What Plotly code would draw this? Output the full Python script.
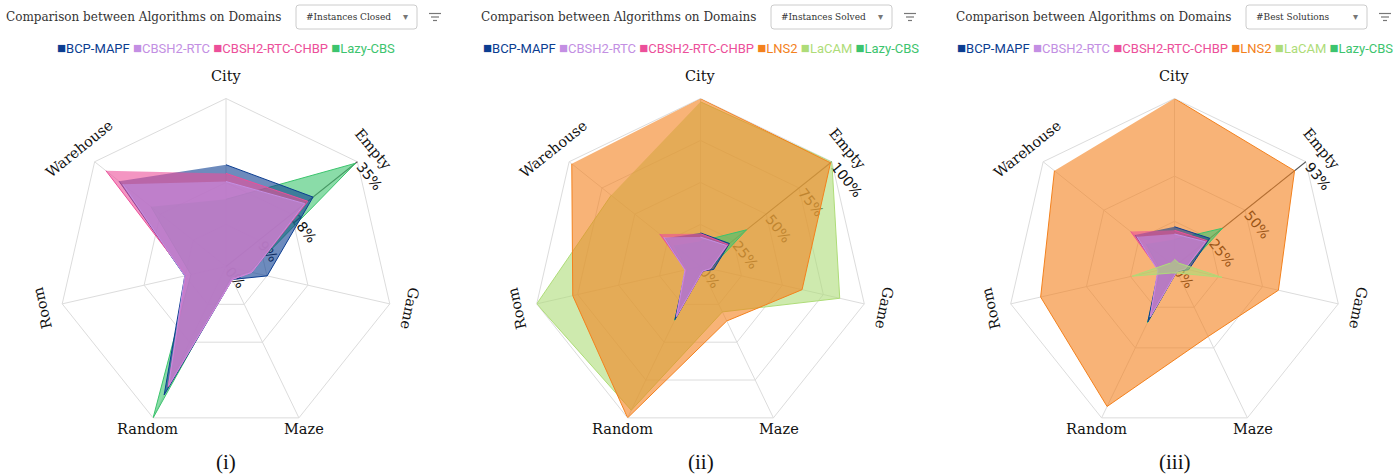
import math
import plotly.graph_objects as go

W, H = 1400, 475

categories = ["City", "Empty", "Game", "Maze", "Random", "Room", "Warehouse"]
algorithms = ["BCP-MAPF", "CBSH2-RTC", "CBSH2-RTC-CHBP", "LNS2", "LaCAM", "Lazy-CBS"]
colors = {
    "BCP-MAPF": "#0b3d91",
    "CBSH2-RTC": "#c38fe3",
    "CBSH2-RTC-CHBP": "#ec4f9a",
    "LNS2": "#f3811d",
    "LaCAM": "#aedc78",
    "Lazy-CBS": "#3cc46e",
}

# Panel (i) - #Instances Closed (percent)
closed_bcp = [21.2, 23.2, 8.8, 3.0, 29.7, 8.8, 28.5]
closed_cbsh2 = [17.7, 21.0, 5.5, 3.0, 27.6, 8.8, 27.5]
closed_chbp = [19.4, 21.8, 5.5, 3.0, 27.8, 8.5, 32.0]
closed_lazy = [14.0, 34.5, 5.0, 2.5, 35.0, 7.5, 20.0]

# Panel (ii) - #Instances Solved (percent)
solved_bcp = [20.0, 22.0, 8.0, 3.0, 35.0, 9.0, 27.0]
solved_cbsh2 = [17.5, 20.0, 6.0, 3.0, 33.0, 9.5, 28.0]
solved_chbp = [19.5, 21.0, 6.0, 3.0, 33.0, 9.0, 31.0]
solved_lns2 = [100.0, 99.0, 62.0, 36.0, 100.0, 78.0, 98.0]
solved_lacam = [98.0, 100.0, 85.0, 30.0, 95.0, 100.0, 68.0]
solved_lazy = [15.0, 35.0, 6.0, 2.5, 35.5, 8.0, 20.0]

# Panel (iii) - #Best Solutions (percent)
best_bcp = [22.0, 25.0, 8.0, 3.0, 34.0, 9.0, 28.0]
best_cbsh2 = [18.0, 22.0, 6.0, 3.0, 31.0, 9.5, 26.5]
best_chbp = [20.0, 23.0, 6.0, 3.0, 31.0, 9.0, 31.0]
best_lns2 = [93.0, 85.0, 59.0, 43.0, 86.0, 76.0, 85.0]
best_lacam = [4.0, 3.0, 27.0, 4.0, 4.0, 24.0, 3.0]
best_lazy = [15.0, 34.0, 6.0, 3.0, 34.5, 8.0, 20.0]

# radial axis ticks per panel
closed_max = 35
closed_tickvals = [0, 8.75, 17.5, 35]
closed_ticktext = ["0%", "9%", "18%", "35%"]
solved_max = 100
solved_tickvals = [0, 25, 50, 75, 100]
solved_ticktext = ["0%", "25%", "50%", "75%", "100%"]
best_max = 93
best_tickvals = [0, 25, 50, 93]
best_ticktext = ["0%", "25%", "50%", "93%"]

metric_names = ["#Instances Closed", "#Instances Solved", "#Best Solutions"]
panel_labels = ["(i)", "(ii)", "(iii)"]

panels = [
    dict(series=[("Lazy-CBS", closed_lazy), ("BCP-MAPF", closed_bcp),
                 ("CBSH2-RTC-CHBP", closed_chbp), ("CBSH2-RTC", closed_cbsh2)],
         legend=["BCP-MAPF", "CBSH2-RTC", "CBSH2-RTC-CHBP", "Lazy-CBS"],
         rmax=closed_max, tv=closed_tickvals, tt=closed_ticktext),
    dict(series=[("LaCAM", solved_lacam), ("LNS2", solved_lns2), ("Lazy-CBS", solved_lazy),
                 ("BCP-MAPF", solved_bcp), ("CBSH2-RTC-CHBP", solved_chbp), ("CBSH2-RTC", solved_cbsh2)],
         legend=algorithms,
         rmax=solved_max, tv=solved_tickvals, tt=solved_ticktext),
    dict(series=[("LNS2", best_lns2), ("Lazy-CBS", best_lazy), ("BCP-MAPF", best_bcp),
                 ("CBSH2-RTC-CHBP", best_chbp), ("CBSH2-RTC", best_cbsh2), ("LaCAM", best_lacam)],
         legend=algorithms,
         rmax=best_max, tv=best_tickvals, tt=best_ticktext),
]

# layout geometry (pixels)
centers_x = [226, 700.5, 1174.5]
cy = 266.5
R = 168
dropdown_left = [296, 771, 1246]
dropdown_w = 121


def rgba(hexc, a):
    hexc = hexc.lstrip("#")
    r, g, b = int(hexc[0:2], 16), int(hexc[2:4], 16), int(hexc[4:6], 16)
    return f"rgba({r},{g},{b},{a})"


def px(x):
    return x / W


def py(y):
    return 1 - y / H


def rounded_rect(x0, y0, x1, y1, rad):
    # path in paper coordinates, from pixel box
    pts = [
        f"M {px(x0 + rad)},{py(y0)}",
        f"L {px(x1 - rad)},{py(y0)}",
        f"Q {px(x1)},{py(y0)} {px(x1)},{py(y0 + rad)}",
        f"L {px(x1)},{py(y1 - rad)}",
        f"Q {px(x1)},{py(y1)} {px(x1 - rad)},{py(y1)}",
        f"L {px(x0 + rad)},{py(y1)}",
        f"Q {px(x0)},{py(y1)} {px(x0)},{py(y1 - rad)}",
        f"L {px(x0)},{py(y0 + rad)}",
        f"Q {px(x0)},{py(y0)} {px(x0 + rad)},{py(y0)}",
        "Z",
    ]
    return " ".join(pts)


fig = go.Figure()
annotations = []
shapes = []

n = len(categories)
radial_angle = 90 - 360 / n

for i, p in enumerate(panels):
    pid = "polar" if i == 0 else f"polar{i+1}"
    for name, vals in p["series"]:
        fig.add_trace(go.Scatterpolar(
            r=vals, theta=categories, fill="toself", name=name,
            fillcolor=rgba(colors[name], 0.6),
            line=dict(color=colors[name], width=1),
            mode="lines", showlegend=False, subplot=pid,
        ))
    cx = centers_x[i]
    fig.update_layout({pid: dict(
        domain=dict(x=[px(cx - R), px(cx + R)], y=[py(cy + R), py(cy - R)]),
        gridshape="linear",
        bgcolor="white",
        radialaxis=dict(range=[0, p["rmax"]], tickvals=p["tv"], ticktext=p["tt"],
                        angle=radial_angle, tickangle=90, showline=True,
                        linecolor="#555", linewidth=1, gridcolor="#dcdcdc",
                        ticks="", layer="below traces",
                        tickfont=dict(family="DejaVu Sans", size=14, color="#111")),
        angularaxis=dict(direction="clockwise", rotation=90, showticklabels=False,
                         gridcolor="#dcdcdc", linecolor="#dcdcdc", ticks="",
                         layer="below traces"),
    )})

    # category labels
    dists = [22, 20, 20, 12, 12, 20, 20]
    rots = [0, 50, 102, 0, 0, -103, -39]
    for k, cat in enumerate(categories):
        th = math.radians(90 - k * 360 / n)
        d = R + dists[k]
        lx = cx + d * math.cos(th)
        ly = cy - d * math.sin(th)
        annotations.append(dict(x=px(lx), y=py(ly), xref="paper", yref="paper",
                                text=cat, showarrow=False, textangle=rots[k],
                                xanchor="center", yanchor="middle",
                                font=dict(family="DejaVu Serif", size=14.5, color="#111")))

    # panel label
    annotations.append(dict(x=px(cx), y=py(462), xref="paper", yref="paper",
                            text=panel_labels[i], showarrow=False,
                            xanchor="center", yanchor="middle",
                            font=dict(family="Liberation Serif", size=21, color="#111")))

    # header: title, dropdown, filter icon
    dl = dropdown_left[i]
    annotations.append(dict(x=px(dl - 12), y=py(17), xref="paper", yref="paper",
                            text="Comparison between Algorithms on Domains", showarrow=False,
                            xanchor="right", yanchor="middle",
                            font=dict(family="DejaVu Serif", size=12, color="#333")))
    shapes.append(dict(type="path", xref="paper", yref="paper",
                       path=rounded_rect(dl, 5, dl + dropdown_w, 29, 3),
                       line=dict(color="#cccccc", width=1), fillcolor="white"))
    annotations.append(dict(x=px(dl + 8), y=py(17), xref="paper", yref="paper",
                            text=metric_names[i], showarrow=False,
                            xanchor="left", yanchor="middle",
                            font=dict(family="DejaVu Serif Condensed, DejaVu Serif", size=10,
                                      color="#333")))
    annotations.append(dict(x=px(dl + dropdown_w - 12), y=py(17), xref="paper", yref="paper",
                            text="▾", showarrow=False, xanchor="center", yanchor="middle",
                            font=dict(family="DejaVu Sans", size=10, color="#777")))
    fx = dl + dropdown_w + 18
    for yy, ww in [(13.5, 12), (17, 8), (20.5, 4)]:
        shapes.append(dict(type="line", xref="paper", yref="paper",
                           x0=px(fx - ww / 2), x1=px(fx + ww / 2), y0=py(yy), y1=py(yy),
                           line=dict(color="#777", width=1.2)))

    # legend row
    parts = []
    for name in p["legend"]:
        parts.append(f"<span style='color:{colors[name]}'><span style='font-size:15px'>■</span>{name}</span>")
    annotations.append(dict(x=px(cx), y=py(48), xref="paper", yref="paper",
                            text="&nbsp;".join(parts), showarrow=False,
                            xanchor="center", yanchor="middle",
                            font=dict(family="Roboto", size=13)))

fig.update_layout(
    width=W, height=H,
    margin=dict(l=0, r=0, t=0, b=0),
    paper_bgcolor="white",
    showlegend=False,
    annotations=annotations,
    shapes=shapes,
)

fig.write_html("out.html", config={"displayModeBar": False},
               post_script="document.body.style.margin='0';")
